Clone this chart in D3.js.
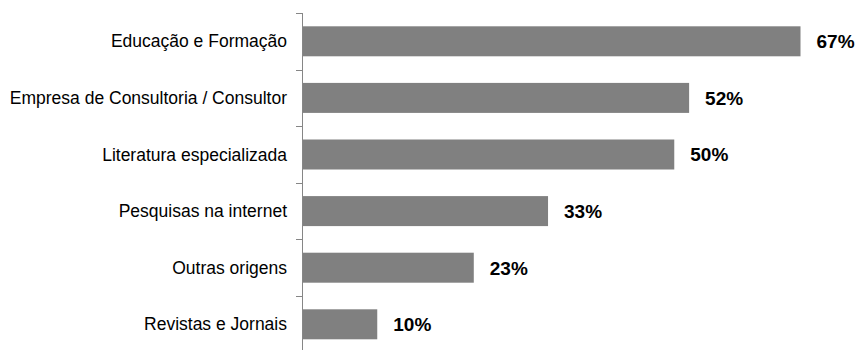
<!DOCTYPE html>
<html>
<head>
<meta charset="utf-8">
<script src="https://cdn.jsdelivr.net/npm/d3@7"></script>
<style>
  html, body { margin: 0; padding: 0; background: #fff; }
  svg { display: block; }
</style>
</head>
<body>
<svg id="chart" width="863" height="350"></svg>
<script>
const categories = [
  "Educação e Formação",
  "Empresa de Consultoria / Consultor",
  "Literatura especializada",
  "Pesquisas na internet",
  "Outras origens",
  "Revistas e Jornais"
];
const values = [67, 52, 50, 33, 23, 10];

const svg = d3.select("#chart");
const plotLeft = 303, plotTop = 13, bandH = 56.6;

const x = d3.scaleLinear().domain([0, 67]).range([plotLeft, 800.5]);
const y = d3.scaleBand()
  .domain(categories)
  .range([plotTop, plotTop + bandH * categories.length])
  .paddingInner(0.47)
  .paddingOuter(0.235);

// bars
svg.append("g").selectAll("rect")
  .data(values)
  .join("rect")
  .attr("x", x(0))
  .attr("y", (d, i) => y(categories[i]))
  .attr("width", d => x(d) - x(0))
  .attr("height", y.bandwidth())
  .attr("fill", "#808080");

// category axis with ticks at band boundaries
const axis = svg.append("g");
axis.append("line")
  .attr("x1", plotLeft - 0.5).attr("x2", plotLeft - 0.5)
  .attr("y1", plotTop).attr("y2", plotTop + bandH * categories.length)
  .attr("stroke", "#868686").attr("stroke-width", 1);
axis.selectAll("line.tick")
  .data(d3.range(categories.length + 1))
  .join("line")
  .attr("class", "tick")
  .attr("x1", plotLeft - 7).attr("x2", plotLeft - 0.5)
  .attr("y1", i => Math.round(plotTop + i * bandH) + 0.5)
  .attr("y2", i => Math.round(plotTop + i * bandH) + 0.5)
  .attr("stroke", "#868686").attr("stroke-width", 1);

// category labels
svg.append("g").selectAll("text")
  .data(categories)
  .join("text")
  .attr("x", 287)
  .attr("y", d => y(d) + y.bandwidth() / 2)
  .attr("dy", "0.35em")
  .attr("text-anchor", "end")
  .attr("font-family", "Liberation Sans, Arial, sans-serif")
  .attr("font-size", 17.5)
  .attr("fill", "#000")
  .text(d => d);

// value labels
svg.append("g").selectAll("text")
  .data(values)
  .join("text")
  .attr("x", d => x(d) + 16)
  .attr("y", (d, i) => y(categories[i]) + y.bandwidth() / 2)
  .attr("dy", "0.36em")
  .attr("font-family", "Liberation Sans, Arial, sans-serif")
  .attr("font-size", 19)
  .attr("font-weight", "bold")
  .attr("fill", "#000")
  .text(d => d + "%");
</script>
</body>
</html>
